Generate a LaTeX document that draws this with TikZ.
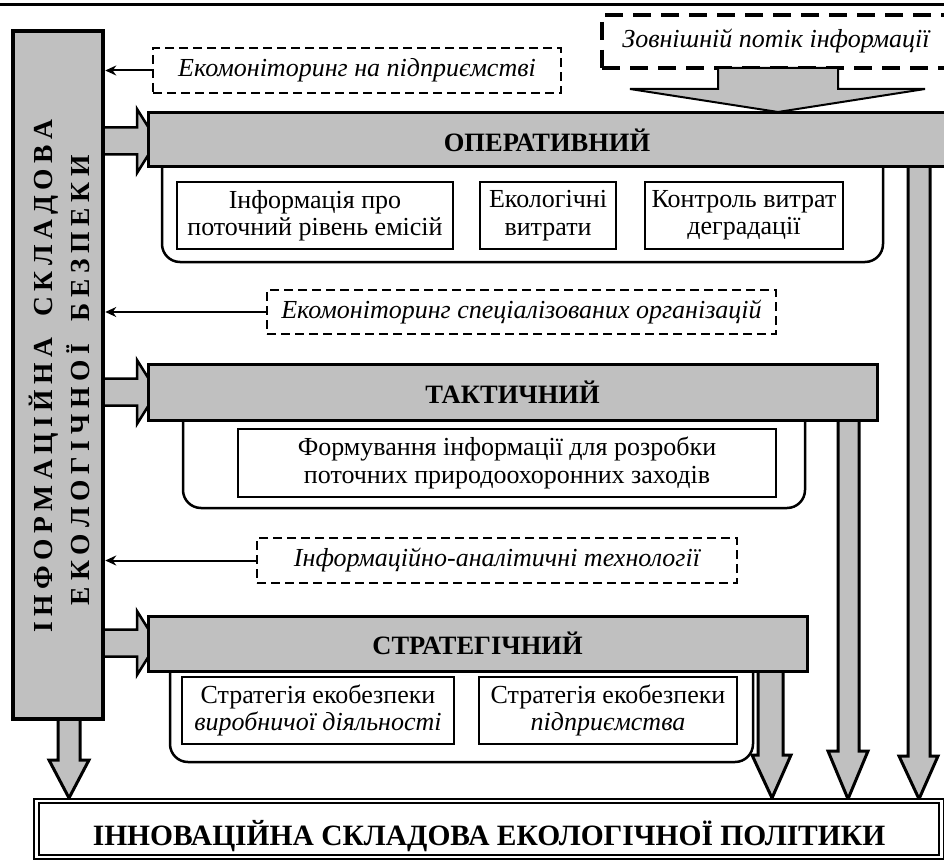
\documentclass[tikz,border=0pt]{standalone}
\usepackage{fontspec}
\setmainfont{Liberation Serif}
\usetikzlibrary{arrows.meta}
\definecolor{barg}{HTML}{C0C0C0}
\begin{document}
\begin{tikzpicture}[x=1pt,y=-1pt,
  bar/.style={draw,line width=3pt,fill=barg,inner sep=0pt,font=\fontsize{26.5}{29}\selectfont\bfseries},
  cont/.style={draw,line width=2.5pt,rounded corners=18pt},
  ibox/.style={draw,line width=2.5pt,inner sep=0pt,align=center,font=\fontsize{26}{27.5}\selectfont},
  dbox/.style={draw,line width=2pt,dash pattern=on 9pt off 5pt,inner sep=0pt,font=\fontsize{26}{28}\selectfont\itshape},
  blk/.style={draw,line width=2.5pt,fill=barg,line join=miter},
  thinarr/.style={line width=2pt,-{Stealth[length=11pt,width=10pt]}},
  vtxt/.style={rotate=90,inner sep=0pt,font=\fontsize{27.5}{30}\selectfont\bfseries}
]
\useasboundingbox (0,0) rectangle (944,861);
% top rule
\draw[line width=3pt] (0,5) -- (944,5);

% right-pointing block arrows from the left box
\foreach \c in {141,392,643}{
  \draw[blk] (100,\c-13.5) -- (137,\c-13.5) -- (137,\c-32) -- (157,\c) -- (137,\c+32) -- (137,\c+13.5) -- (100,\c+13.5) -- cycle;
}
% long down arrows
\draw[blk,line width=3pt] (908,160) -- (908,756) -- (899,756) -- (919,799) -- (938,756) -- (930,756) -- (930,160);
\draw[blk,line width=3pt] (838,415) -- (838,751) -- (828,751) -- (848,799) -- (868,751) -- (859,751) -- (859,415);
\draw[blk,line width=3pt] (758,665) -- (758,755) -- (752,755) -- (772,798) -- (791,755) -- (783,755) -- (783,665);
\draw[blk,line width=3pt] (58,712) -- (58,760) -- (49,760) -- (69,798) -- (89,760) -- (80,760) -- (80,712);

% left box
\node[draw,line width=4.5pt,fill=barg,minimum width=90pt,minimum height=688pt,inner sep=0pt] (L) at (58,375) {};
\node[vtxt] (L1) at (44,376) {\makebox[513pt][s]{І\hfill Н\hfill Ф\hfill О\hfill Р\hfill М\hfill А\hfill Ц\hfill І\hfill Й\hfill Н\hfill А\hfill\hspace{10pt}\hfill С\hfill К\hfill Л\hfill А\hfill Д\hfill О\hfill В\hfill А}};
\node[vtxt] (L2) at (78,380) {\makebox[450pt][s]{Е\hfill К\hfill О\hfill Л\hfill О\hfill Г\hfill І\hfill Ч\hfill Н\hfill О\hfill Ї\hfill\hspace{10pt}\hfill Б\hfill Е\hfill З\hfill П\hfill Е\hfill К\hfill И}};

% containers
\draw[cont] (162,165) -- (162,262) -- (883,262) -- (883,165);
\draw[cont] (183,419) -- (183,508) -- (805,508) -- (805,419);
\draw[cont] (170,669) -- (170,762) -- (753,762) -- (753,669);

% bars
\node[bar,minimum width=798pt,minimum height=54pt] (op) at (547,140) {ОПЕРАТИВНИЙ};
\node[bar,minimum width=729pt,minimum height=56pt] (ta) at (512.5,392.5) {ТАКТИЧНИЙ};
\node[bar,minimum width=659pt,minimum height=55pt] (st) at (477.5,643.5) {СТРАТЕГІЧНИЙ};

% inner boxes
\node[ibox,minimum width=276pt,minimum height=67pt] (a) at (315,215.5) {Інформація про\\поточний рівень емісій};
\node[ibox,minimum width=136pt,minimum height=67pt] (b) at (548,215.5) {Екологічні\\витрати};
\node[ibox,minimum width=198pt,minimum height=67pt] (c) at (744,215.5) {Контроль витрат\\деградації};
\node[ibox,minimum width=538pt,minimum height=68pt] (t) at (507,463) {Формування інформації для розробки\\поточних природоохоронних заходів};
\node[ibox,minimum width=272pt,minimum height=67pt] (s1) at (318,710.5) {Стратегія екобезпеки\\\textit{виробничої діяльності}};
\node[ibox,minimum width=258pt,minimum height=67pt] (s2) at (608,710.5) {Стратегія екобезпеки\\\textit{підприємства}};

% dashed boxes
\node[dbox,minimum width=408pt,minimum height=45pt] (d1) at (357,70.5) {Екомоніторинг на підприємстві};
\node[dbox,minimum width=509pt,minimum height=44pt] (d2) at (521.5,312) {Екомоніторинг спеціалізованих організацій};
\node[dbox,minimum width=480pt,minimum height=45pt] (d3) at (497,560.5) {Інформаційно-аналітичні технології};
\node[draw,line width=4pt,dash pattern=on 18pt off 10pt,inner sep=0pt,minimum width=348pt,minimum height=53pt,font=\fontsize{26}{28}\selectfont\itshape] (dz) at (776,41.5) {Зовнішній потік інформації};

% thin arrows
\draw[thinarr] (d1.west) -- (d1.west -| L.east);
\draw[thinarr] (d2.west) -- (d2.west -| L.east);
\draw[thinarr] (d3.west) -- (d3.west -| L.east);

% external flow arrow
\draw[blk,line width=2pt] (718,68) -- (838,68) -- (838,89) -- (925,89) -- (778,112) -- (630,89) -- (718,89) -- cycle;

% bottom box
\node[draw,line width=2pt,double,double distance=2.5pt,minimum width=905pt,minimum height=56pt,inner sep=0pt] (bot) at (489,829) {};
\node[font=\fontsize{29.5}{32}\selectfont\bfseries,anchor=base] (bt) at (489,845) {ІННОВАЦІЙНА СКЛАДОВА ЕКОЛОГІЧНОЇ ПОЛІТИКИ};
\end{tikzpicture}
\end{document}
